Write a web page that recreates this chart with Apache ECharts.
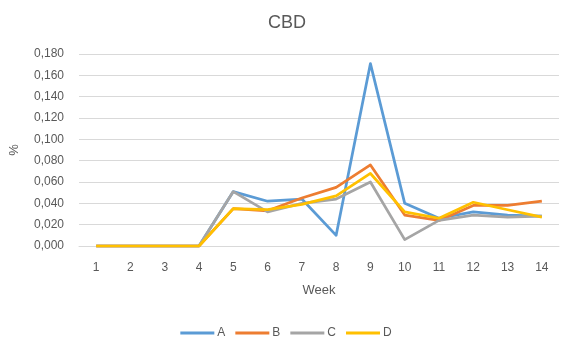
<!DOCTYPE html>
<html>
<head>
<meta charset="utf-8">
<script src="https://cdn.jsdelivr.net/npm/echarts@6/dist/echarts.min.js"></script>
<style>
  html, body { margin: 0; padding: 0; background: #fff; }
  #chart { width: 572px; height: 342px; }
</style>
</head>
<body>
<div id="chart"></div>
<script>
// Weekly CBD share (%) for four groups
const weeks = ['1','2','3','4','5','6','7','8','9','10','11','12','13','14'];
const seriesA = [0, 0, 0, 0, 0.051, 0.042, 0.044, 0.010, 0.171, 0.040, 0.026, 0.032, 0.029, 0.028];
const seriesB = [0, 0, 0, 0, 0.035, 0.033, 0.045, 0.055, 0.076, 0.029, 0.024, 0.038, 0.038, 0.042];
const seriesC = [0, 0, 0, 0, 0.051, 0.032, 0.040, 0.044, 0.060, 0.006, 0.024, 0.029, 0.027, 0.028];
const seriesD = [0, 0, 0, 0, 0.035, 0.034, 0.039, 0.047, 0.068, 0.032, 0.026, 0.041, 0.034, 0.027];
const names = ['A', 'B', 'C', 'D'];
const colors = ['#5B9BD5', '#ED7D31', '#A5A5A5', '#FFC000'];

const font = 'Liberation Sans, Arial, sans-serif';
const textColor = '#595959';

const chart = echarts.init(document.getElementById('chart'));
const data = [seriesA, seriesB, seriesC, seriesD];

chart.setOption({
  animation: false,
  title: {
    text: 'CBD',
    left: 282,
    textAlign: 'center',
    top: 9,
    textStyle: { fontFamily: font, fontSize: 18, fontWeight: 'normal', color: textColor }
  },
  legend: {
    top: 322,
    left: 'center',
    itemWidth: 34,
    itemHeight: 3,
    itemGap: 10,
    icon: 'rect',
    textStyle: { fontFamily: font, fontSize: 12, color: textColor, padding: [0, 0, 0, -2] },
    data: names
  },
  grid: { left: 76, right: 13, top: 54, bottom: 96 },
  xAxis: {
    type: 'category',
    data: weeks,
    boundaryGap: true,
    name: 'Week',
    nameLocation: 'middle',
    nameGap: 38,
    nameTextStyle: { fontFamily: font, fontSize: 13, color: textColor },
    axisLine: { show: true, lineStyle: { color: '#D9D9D9', width: 1 } },
    axisTick: { show: false },
    axisLabel: { fontFamily: font, fontSize: 12, color: textColor, margin: 16 }
  },
  yAxis: {
    type: 'value',
    min: 0,
    max: 0.18,
    interval: 0.02,
    name: '%',
    nameLocation: 'middle',
    nameGap: 58,
    nameRotate: 90,
    nameTextStyle: { fontFamily: font, fontSize: 13, color: textColor },
    axisLine: { show: false },
    axisTick: { show: false },
    splitLine: { lineStyle: { color: '#D9D9D9', width: 1 } },
    axisLabel: {
      fontFamily: font, fontSize: 12, color: textColor, margin: 15,
      formatter: v => v.toFixed(3).replace('.', ',')
    }
  },
  series: names.map((n, i) => ({
    name: n,
    type: 'line',
    data: data[i],
    symbol: 'none',
    lineStyle: { width: 2.75, color: colors[i], join: 'round' },
    itemStyle: { color: colors[i] }
  }))
});
</script>
</body>
</html>
